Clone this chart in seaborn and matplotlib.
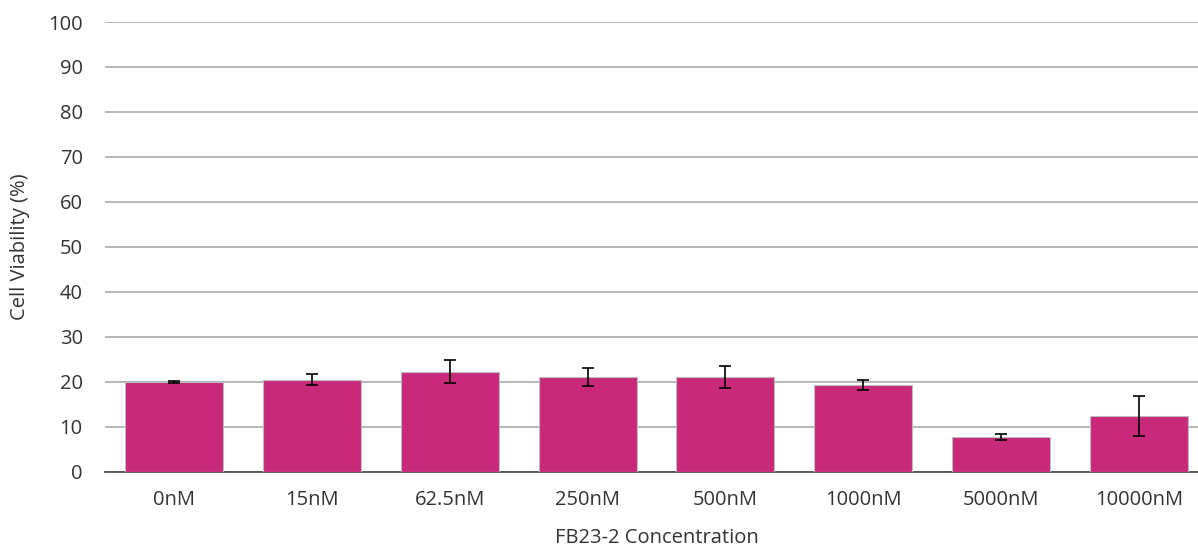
import matplotlib
matplotlib.use("Agg")
import matplotlib.pyplot as plt
import seaborn as sns
import pandas as pd

categories = ["0nM", "15nM", "62.5nM", "250nM", "500nM", "1000nM", "5000nM", "10000nM"]
viability = [19.9, 20.4, 22.2, 21.0, 21.0, 19.2, 7.7, 12.4]
errors = [0.15, 1.25, 2.5, 2.0, 2.5, 1.05, 0.65, 4.5]

sns.set_theme(style="white")
plt.rcParams['font.family'] = ['Open Sans', 'DejaVu Sans']

df = pd.DataFrame({"conc": categories, "val": viability})

fig = plt.figure(figsize=(11.98, 5.49), dpi=100)
ax = fig.add_axes([105/1198, 1 - 471.5/549, 1103/1198, (471.5 - 22)/549])

sns.barplot(data=df, x="conc", y="val", color="#C9297A", saturation=1,
            width=0.71, edgecolor="#BBBBBB", linewidth=0.8, errorbar=None, ax=ax, zorder=3)
ax.errorbar(range(len(categories)), viability, yerr=errors, fmt="none",
            ecolor="black", elinewidth=1.2, capsize=4, capthick=1.2, zorder=4)

ax.set_ylim(0, 100)
ax.set_xlim(-0.5, len(categories) - 0.5)
ax.set_yticks(range(0, 101, 10))
ax.yaxis.grid(True, color="#AAAAAA", linewidth=1.2, zorder=0)
ax.set_axisbelow(True)
for s in ["top", "right", "left"]:
    ax.spines[s].set_visible(False)
ax.spines["bottom"].set_color("#444444")
ax.spines["bottom"].set_linewidth(1.2)
ax.tick_params(axis="both", length=0, labelsize=14.5, colors="#333333")
ax.tick_params(axis="y", pad=16)
ax.tick_params(axis="x", pad=13)
ax.set_xlabel("FB23-2 Concentration", fontsize=14.5, color="#333333", labelpad=13)
ax.set_ylabel("Cell Viability (%)", fontsize=14.5, color="#333333", labelpad=13)

fig.savefig("out.png", dpi=100)
